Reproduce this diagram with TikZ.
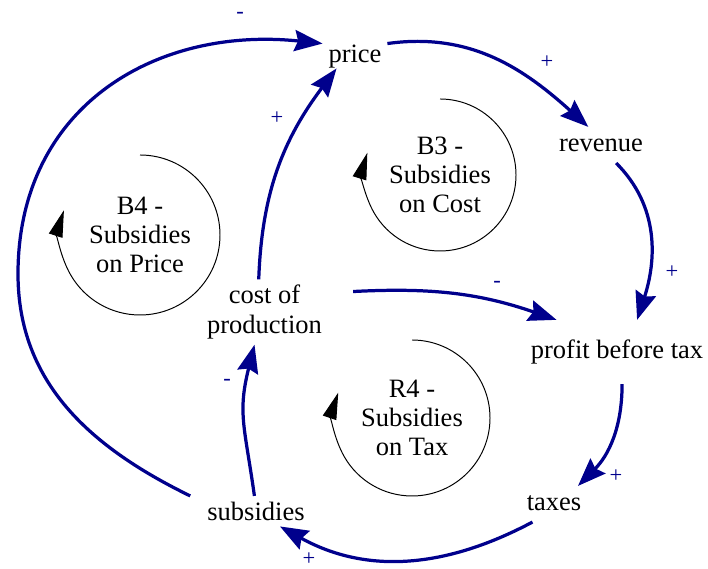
\documentclass[tikz,border=0pt]{standalone}
\usepackage{fontspec}
\setmainfont{Liberation Serif}
\usepackage{tikz}
\usetikzlibrary{arrows.meta}
\definecolor{linkblue}{RGB}{0,0,140}
\tikzstyle{varbox} = [rectangle, inner sep=4pt, text centered, font=\fontsize{18.85}{20.8}\selectfont]
\tikzstyle{oneline} = [varbox, text height=13pt, text depth=4.3pt]
\tikzstyle{looptext} = [align=center, inner sep=0pt, font=\fontsize{18.85}{20.8}\selectfont]
\tikzstyle{loopmark} = [black, line width=0.7pt, -{Triangle[length=19pt,width=10pt]}]
\tikzstyle{link} = [linkblue, line width=2.3pt, -{Stealth[length=20pt,width=15pt,inset=2.5pt]}]
\tikzstyle{sign} = [text=linkblue, inner sep=0pt, font=\fontsize{16}{19}\selectfont]

\begin{document}
\begin{tikzpicture}[x=0.025cm, y=0.025cm]
	\useasboundingbox (0,0) rectangle (708,569);
	
	% Variables
	\node (price) [oneline, inner ysep=0pt] at (355,513) {price};
	\node (revenue) [oneline] at (601,424) {revenue};
	\node (profit) [oneline, inner ysep=14pt] at (617,217) {profit before tax};
	\node (taxes) [oneline] at (554,65) {taxes};
	\node (subsidies) [oneline] at (256,55) {subsidies};
	\node (cost) [varbox, align=center, inner xsep=22pt] at (264.5,257) {cost of\\production};
	
	% Loop names
	\node (loopBfour) [looptext] at (140,334) {B4 -\\Subsidies\\on Price};
	\node (loopBthree) [looptext] at (440,394) {B3 -\\Subsidies\\on Cost};
	\node (loopRfour) [looptext] at (412,151) {R4 -\\Subsidies\\on Tax};
	
	% Loop markers
	\draw [loopmark] ([shift={(90:80)}]loopBfour.center) arc [start angle=90, end angle=-198, radius=80];
	\draw [loopmark] ([shift={(90:76)}]loopBthree.center) arc [start angle=90, end angle=-197, radius=76];
	\draw [loopmark] ([shift={(90:78)}]loopRfour.center) arc [start angle=90, end angle=-199, radius=78];
	
	% Links
	\draw [link] ([xshift=-8pt]subsidies.north west) to[out=154, in=-90] (18,295) to[out=90, in=174, looseness=1.12] (price.north west);
	\draw [link] (price.north east) to[out=8, in=138] (revenue.125);
	\draw [link] (revenue.-50) to[out=-45, in=72] (profit.58);
	\draw [link] (cost.13) to[out=3, in=161] (profit.152);
	\draw [link] (cost.100) to[out=88, in=233] (price.214);
	\draw [link] (profit.-81) to[out=-90, in=45] (taxes.37);
	\draw [link] (taxes.220) to[out=208, in=-29] ([yshift=4pt]subsidies.-37);
	\draw [link] (subsidies.95) to[out=98, in=256, looseness=1.2] (cost.-107);
	
	% Polarities
	\node (signsubprice) [sign] at (240,554) {-};
	\node (signpricerev) [sign] at (547,507) {+};
	\node (signrevprofit) [sign] at (672,297) {+};
	\node (signcostprofit) [sign] at (497,285) {-};
	\node (signcostprice) [sign] at (277,451) {+};
	\node (signprofittax) [sign] at (616,93) {+};
	\node (signtaxsub) [sign] at (309,10) {+};
	\node (signsubcost) [sign] at (227,187) {-};
	
\end{tikzpicture}
\end{document}
